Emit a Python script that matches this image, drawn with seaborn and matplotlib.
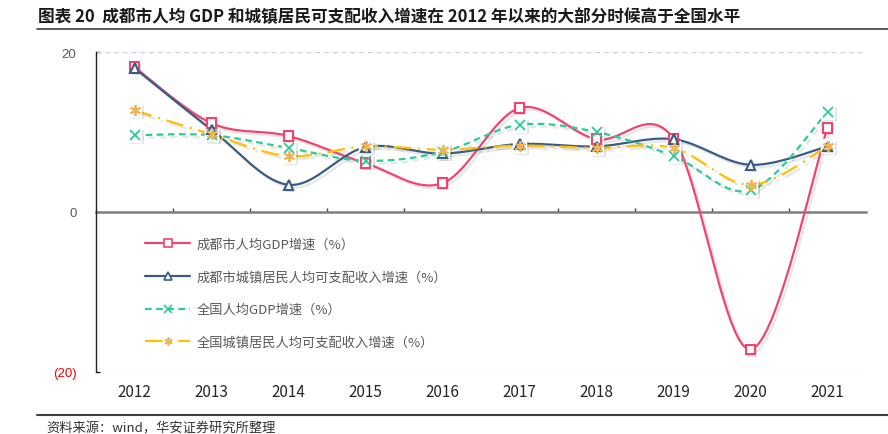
import numpy as np
import pandas as pd
import matplotlib
matplotlib.use("Agg")
import matplotlib.pyplot as plt
import matplotlib.patheffects as pe
from matplotlib.lines import Line2D
import seaborn as sns

# data (%)
years = ["2012", "2013", "2014", "2015", "2016", "2017", "2018", "2019", "2020", "2021"]
cd_gdp = [18.1, 11.1, 9.5, 6.1, 3.6, 13.0, 9.1, 9.2, -17.2, 10.5]
cd_income = [18.0, 10.3, 3.4, 8.1, 7.3, 8.5, 8.2, 9.1, 5.9, 8.2]
cn_gdp = [9.6, 9.6, 8.0, 6.4, 7.5, 10.9, 10.0, 7.0, 2.7, 12.5]
cn_income = [12.7, 9.7, 7.0, 8.2, 7.8, 8.3, 8.0, 8.0, 3.4, 8.2]

labels = ["成都市人均GDP增速（%）", "成都市城镇居民人均可支配收入增速（%）",
          "全国人均GDP增速（%）", "全国城镇居民人均可支配收入增速（%）"]
y_ticks = [-20, 0, 20]

CJK = ["Noto Sans CJK SC", "DejaVu Sans"]
NARROW = ["Liberation Sans Narrow", "Liberation Sans", "DejaVu Sans"]


def smooth(xs, ys, steps=20):
    """Catmull-Rom curve through the points, like Excel's smoothed line."""
    p = np.column_stack([xs, ys]).astype(float)
    p = np.vstack([p[0], p, p[-1]])
    t = np.linspace(0, 1, steps, endpoint=False)[:, None]
    out = []
    for i in range(1, len(p) - 2):
        p0, p1, p2, p3 = p[i - 1], p[i], p[i + 1], p[i + 2]
        seg = 0.5 * (2 * p1 + (-p0 + p2) * t + (2 * p0 - 5 * p1 + 4 * p2 - p3) * t ** 2
                     + (-p0 + 3 * p1 - 3 * p2 + p3) * t ** 3)
        out.append(seg)
    out.append(p[-2][None, :])
    out = np.vstack(out)
    return out[:, 0], out[:, 1]


sns.set_theme(style="white")
plt.rcParams["font.family"] = CJK

fig = plt.figure(figsize=(8.88, 4.35), dpi=100)
ax = fig.add_axes([96 / 888, 1 - 373 / 435, 770 / 888, 320 / 435])

x = np.arange(len(years))
series = [
    (cd_gdp, "#F2446F", "-", "s", 7, "#F2446F"),
    (cd_income, "#3B5B82", "-", "^", 7, "#3B5B82"),
    (cn_gdp, "#2CCB9A", (0, (3, 2)), "x", 7, "#2CCB9A"),
    (cn_income, "#FFC000", (0, (8, 3, 1, 3)), (6, 2, 0), 8, "#F0B450"),
]
shadow = [pe.SimpleLineShadow(offset=(2, -2), shadow_color="#888888", alpha=0.2), pe.Normal()]
box_shadow = [pe.SimplePatchShadow(offset=(1.5, -1.5), alpha=0.15), pe.Normal()]

for vals, color, ls, marker, ms, mcolor in series:
    sx, sy = smooth(x, vals)
    df = pd.DataFrame({"x": sx, "y": sy})
    sns.lineplot(data=df, x="x", y="y", ax=ax, color=color, linewidth=1.6,
                 linestyle=ls, sort=False, estimator=None, zorder=3)
    ax.lines[-1].set_path_effects(shadow)
    if marker == "x" or isinstance(marker, tuple):
        ax.plot(x, vals, linestyle="none", marker="s", markersize=10,
                markerfacecolor="white", markeredgecolor="white", zorder=4,
                path_effects=box_shadow)
        ax.plot(x, vals, linestyle="none", marker=marker, markersize=ms,
                markeredgecolor=mcolor, markeredgewidth=1.3, zorder=5)
    else:
        ax.plot(x, vals, linestyle="none", marker=marker, markersize=ms,
                markerfacecolor="white", markeredgecolor=mcolor, markeredgewidth=1.5,
                zorder=5, path_effects=box_shadow)

ax.set_xlim(-0.5, len(years) - 0.5)
ax.set_ylim(-20, 20)
ax.set_xlabel("")
ax.set_ylabel("")

# dashed gridlines at +/-20
for g in (20, -20):
    ax.axhline(g, color="#D0D0D0", linestyle=(0, (4, 3)), linewidth=0.9, zorder=1)

# x labels at the bottom, zero line with category ticks
ax.set_xticks(x)
ax.set_xticklabels(years, fontfamily=NARROW, fontsize=9.5, color="#595959")
ax.tick_params(axis="x", which="major", length=0, pad=8)
ax.spines["bottom"].set_visible(False)
ax.spines["right"].set_visible(False)
ax.spines["top"].set_position(("data", 0))
ax.spines["top"].set_color("#7F7F7F")
ax.spines["top"].set_linewidth(1.8)
ax.spines["top"].set_zorder(2)
ax.set_xticks(np.arange(0.5, len(years) - 1, 1), minor=True)
ax.tick_params(axis="x", which="minor", top=True, bottom=False, direction="out",
               length=3, width=1, color="#404040")

# y axis
ax.spines["left"].set_color("#202020")
ax.spines["left"].set_linewidth(1.0)
ax.set_yticks(y_ticks)
ax.set_yticklabels([f"({abs(v)})" if v < 0 else str(v) for v in y_ticks],
                   fontfamily=NARROW, fontsize=9.5)
for lab, v in zip(ax.get_yticklabels(), y_ticks):
    lab.set_color("#FF0000" if v < 0 else "#595959")
ax.tick_params(axis="y", direction="in", length=3, width=1, color="#202020", pad=14, left=True)

# legend
handles = []
for (vals, color, ls, marker, ms, mcolor), lab in zip(series, labels):
    handles.append(Line2D([0], [0], color=color, linestyle=ls, linewidth=1.6, marker=marker,
                          markersize=6, markerfacecolor="white", markeredgecolor=mcolor,
                          markeredgewidth=1.2, label=lab))
leg = ax.legend(handles=handles, loc="upper left", bbox_to_anchor=(0.064, 0.42),
                frameon=False, borderpad=0, borderaxespad=0, handlelength=3.4,
                handletextpad=0.5, labelspacing=1.5, fontsize=9.5)
for t in leg.get_texts():
    t.set_color("#595959")

# title, rules and source
fig.text(0.043, 1 - 17 / 435, "图表 20  成都市人均 GDP 和城镇居民可支配收入增速在 2012 年以来的大部分时候高于全国水平",
         fontsize=12, fontweight="bold", color="#1A1A1A", va="center", ha="left")
fig.add_artist(Line2D([37 / 888, 1], [1 - 30 / 435] * 2, color="#404040", linewidth=1.2))
fig.add_artist(Line2D([37 / 888, 1], [1 - 416 / 435] * 2, color="#404040", linewidth=1.5))
fig.text(0.052, 1 - 429 / 435, "资料来源：wind，华安证券研究所整理", fontsize=9.5,
         color="#333333", va="center", ha="left")

fig.savefig("out.png", dpi=100)
